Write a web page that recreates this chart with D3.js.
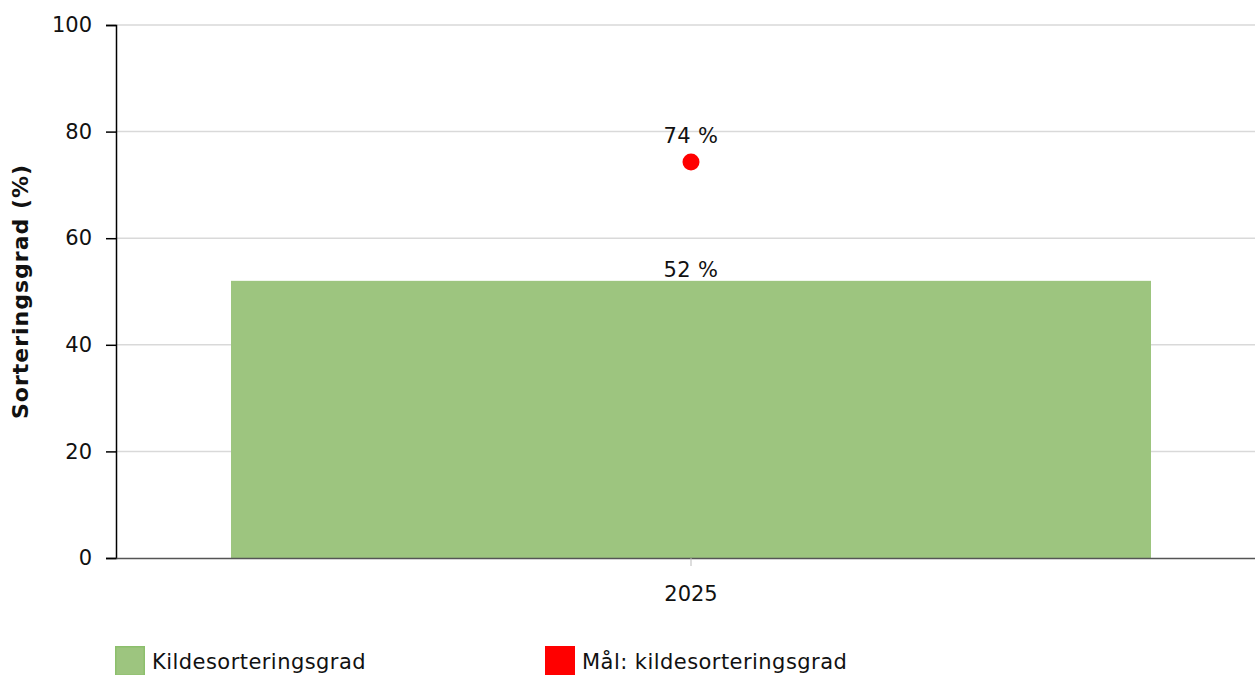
<!DOCTYPE html>
<html>
<head>
<meta charset="utf-8">
<script src="https://cdn.jsdelivr.net/npm/d3@7"></script>
<style>
  body { margin: 0; background: #fff; }
  svg { font-family: Verdana, "DejaVu Sans", sans-serif; }
</style>
</head>
<body>
<script>
// data
const years = ['2025'];
const sortering = [52];
const maal = [74.3];
const yTicks = [0, 20, 40, 60, 80, 100];
const legendNames = ['Kildesorteringsgrad', 'Mål: kildesorteringsgrad'];

const width = 1255, height = 675;
const margin = {top: 25, right: -11, bottom: 117, left: 116};
const fs = 21;
const ff = 'Verdana, "DejaVu Sans", sans-serif';

const svg = d3.select('body').append('svg')
    .attr('width', width)
    .attr('height', height);

const x = d3.scaleBand()
    .domain(years)
    .range([margin.left, width - margin.right])
    .paddingInner(0.2)
    .paddingOuter(0.1);

const y = d3.scaleLinear()
    .domain([0, 100])
    .range([height - margin.bottom, margin.top]);

// grid
svg.append('g')
    .selectAll('line')
    .data(yTicks.filter(d => d > 0))
    .join('line')
    .attr('x1', margin.left).attr('x2', width)
    .attr('y1', d => y(d)).attr('y2', d => y(d))
    .attr('stroke', '#d9d9d9')
    .attr('stroke-width', 1.5);

// bars
svg.append('g')
    .selectAll('rect')
    .data(years)
    .join('rect')
    .attr('x', d => x(d))
    .attr('width', x.bandwidth())
    .attr('y', (d, i) => y(sortering[i]))
    .attr('height', (d, i) => y(0) - y(sortering[i]))
    .attr('fill', '#9dc57f');

svg.append('g')
    .selectAll('text')
    .data(years)
    .join('text')
    .attr('x', d => x(d) + x.bandwidth() / 2)
    .attr('y', (d, i) => y(sortering[i]) - 4)
    .attr('text-anchor', 'middle')
    .attr('font-size', fs)
    .attr('letter-spacing', 0.4)
    .attr('fill', '#111')
    .text((d, i) => Math.round(sortering[i]) + ' %');

// target points
svg.append('g')
    .selectAll('circle')
    .data(years)
    .join('circle')
    .attr('cx', d => x(d) + x.bandwidth() / 2)
    .attr('cy', (d, i) => y(maal[i]))
    .attr('r', 8.5)
    .attr('fill', '#ff0000');

svg.append('g')
    .selectAll('text')
    .data(years)
    .join('text')
    .attr('x', d => x(d) + x.bandwidth() / 2)
    .attr('y', (d, i) => y(maal[i]) - 19)
    .attr('text-anchor', 'middle')
    .attr('font-size', fs)
    .attr('letter-spacing', 0.4)
    .attr('fill', '#111')
    .text((d, i) => Math.round(maal[i]) + ' %');

// y axis
const yAxis = svg.append('g')
    .attr('transform', `translate(${margin.left},0)`)
    .call(d3.axisLeft(y).tickValues(yTicks).tickSize(10).tickPadding(14));
yAxis.select('.domain').attr('stroke', '#000').attr('stroke-width', 1.5);
yAxis.selectAll('.tick line').attr('stroke', '#000').attr('stroke-width', 1.5);
yAxis.selectAll('text').attr('font-size', fs).attr('fill', '#111')
    .attr('font-family', ff);

// x axis
const xAxis = svg.append('g')
    .attr('transform', `translate(0,${y(0)})`)
    .call(d3.axisBottom(x).tickSize(8).tickPadding(20).tickSizeOuter(0));
xAxis.select('.domain').attr('stroke', '#555').attr('stroke-width', 1.5);
xAxis.selectAll('.tick line').attr('stroke', '#bbb');
xAxis.selectAll('text').attr('font-size', fs).attr('fill', '#111')
    .attr('font-family', ff);

// y title
svg.append('text')
    .attr('transform', `translate(28,${(y(0) + y(100)) / 2}) rotate(-90)`)
    .attr('text-anchor', 'middle')
    .attr('font-size', 22)
    .attr('font-weight', 'bold')
    .attr('letter-spacing', 1)
    .attr('fill', '#111')
    .text('Sorteringsgrad (%)');

// legend
const legendColors = ['#9dc57f', '#ff0000'];
const legendStroke = ['#8cbf6c', '#ff0000'];
const legendX = [115, 545];
const lg = svg.append('g')
    .selectAll('g')
    .data(legendNames)
    .join('g')
    .attr('transform', (d, i) => `translate(${legendX[i]},646)`);
lg.append('rect')
    .attr('x', 0.75).attr('y', 0.75)
    .attr('width', 28.5).attr('height', 28.5)
    .attr('fill', (d, i) => legendColors[i])
    .attr('stroke', (d, i) => legendStroke[i])
    .attr('stroke-width', 1.5);
lg.append('text')
    .attr('x', 37)
    .attr('y', 23)
    .attr('font-size', fs)
    .attr('letter-spacing', 0.45)
    .attr('fill', '#111')
    .text(d => d);
</script>
</body>
</html>
